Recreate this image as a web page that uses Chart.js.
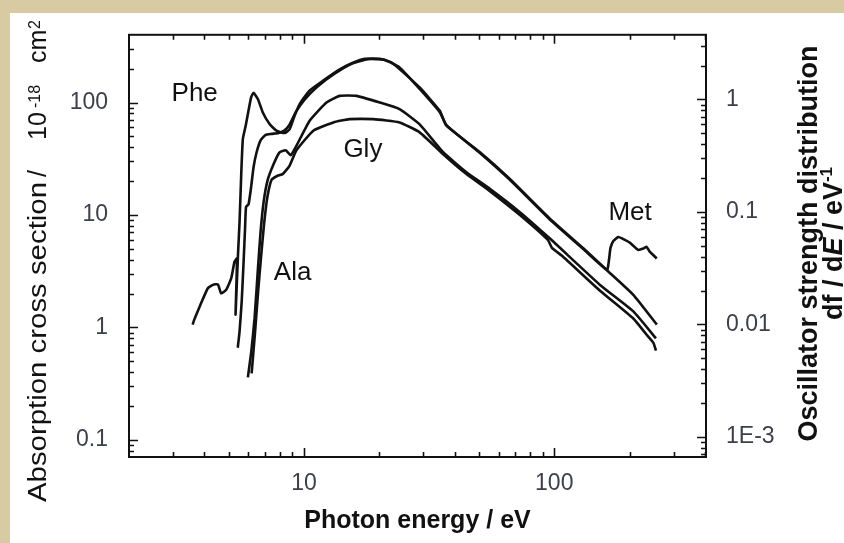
<!DOCTYPE html>
<html>
<head>
<meta charset="utf-8">
<script src="https://cdn.jsdelivr.net/npm/chart.js@4.4.1/dist/chart.umd.min.js"></script>
<style>
  html, body { margin: 0; padding: 0; }
  body { width: 844px; height: 543px; background: #d8cba3; position: relative; overflow: hidden; }
  #panel { position: absolute; left: 10px; top: 13px; width: 834px; height: 530px; background: #fff; }
  #chart { position: absolute; left: 0; top: 0; }
</style>
</head>
<body>
<div id="panel"></div>
<canvas id="chart" width="844" height="543"></canvas>
<script>
// photoabsorption cross sections (1e-18 cm^2) against photon energy (eV)
const pheEnergy = [3.59, 3.65, 3.83, 4.13, 4.33, 4.53, 4.67, 4.89, 5.12, 5.28, 5.40, 5.33, 5.45, 5.53, 5.62, 5.70, 5.85, 6.15, 6.29, 6.55, 6.85, 7.29, 7.76, 8.37, 8.77, 9.18, 9.61, 10.5, 11.9, 13.9, 15.7, 17.5, 20.1, 22.4, 24.1, 29.0, 34.9, 37.1, 50.5, 66.5, 96.1, 131, 162, 207, 257];
const pheSigma = [1.06, 1.18, 1.53, 2.23, 2.39, 2.42, 2.01, 2.16, 2.73, 3.84, 4.10, 1.30, 4.40, 8.67, 24.0, 47.3, 62, 111, 122, 107, 81.6, 64.3, 56.2, 53.5, 58, 76.3, 96.6, 127, 156, 197, 226, 245, 245, 226, 198, 136, 84.4, 62.2, 36.1, 20.9, 9.27, 5.03, 3.24, 1.95, 1.06];

const metEnergy = [5.44, 5.53, 5.64, 5.74, 5.82, 5.87, 6.01, 6.15, 6.29, 6.47, 6.71, 7.03, 7.43, 7.92, 8.37, 8.77, 9.26, 10.06, 11.3, 13.3, 15.5, 18.0, 21.0, 24.1, 29.0, 34.9, 37.1, 50.5, 66.5, 96.1, 131, 162.5, 165.5, 167.8, 172.5, 180.3, 186.6, 200.9, 216.2, 227, 234, 239.9, 256.8];
const metSigma = [0.66, 0.92, 1.70, 3.84, 7.83, 11.8, 12.5, 17.7, 26.6, 36.1, 46.1, 51.5, 52.6, 53.7, 56.5, 63.9, 81.6, 106, 138, 181, 221, 243, 240, 205, 132, 82, 63, 35.5, 20.5, 9.1, 4.95, 3.26, 4.00, 5.10, 5.89, 6.38, 6.19, 5.65, 4.90, 5.03, 5.21, 4.77, 4.10];

const alaEnergy = [5.97, 6.16, 6.35, 6.55, 6.71, 6.90, 7.16, 7.56, 7.99, 8.45, 8.85, 9.35, 10.54, 12.3, 13.9, 16.2, 20.1, 24.1, 29.0, 36.0, 44.6, 55.3, 72.9, 96.1, 152.4, 207, 255];
const alaSigma = [0.36, 0.61, 1.21, 3.35, 7.07, 13.0, 20.4, 28.3, 36.1, 37.6, 34.0, 41.6, 68.9, 100, 114.6, 114.6, 100, 87.3, 63.9, 36.1, 24.0, 17.1, 10.6, 6.17, 2.39, 1.39, 0.80];

const glyEnergy = [6.18, 6.38, 6.56, 6.74, 6.93, 7.13, 7.41, 7.78, 8.24, 8.77, 9.32, 10.9, 13.1, 15.2, 18.9, 24.1, 29.0, 36.0, 44.6, 55.3, 72.9, 94.3, 97.9, 107.4, 152.4, 207, 234, 249, 255];
const glySigma = [0.39, 0.92, 2.08, 4.25, 8.32, 14.1, 20.4, 22.1, 23.2, 27.5, 37.4, 56.2, 66.5, 71.2, 71.2, 66.5, 54.3, 34.7, 23.1, 16.3, 10.0, 6.01, 5.10, 4.34, 2.12, 1.20, 0.861, 0.73, 0.622];

const xTickValues = [10, 100];
const yTickValues = [0.1, 1, 10, 100];
const fTickValues = [0.001, 0.01, 0.1, 1];
const fTickLabels = ['1E-3', '0.01', '0.1', '1'];

// axis ranges; the oscillator strength axis is the cross section scaled down
const xRange = [2, 404];
const sigmaRange = [0.0705, 400];
const sigmaPerF = 106.5;

const FONT = "'Liberation Sans', Arial, Helvetica, sans-serif";
const INK = '#111111';
const TICK_TEXT = '#3d404b';

Chart.defaults.font.family = FONT;

function toPoints(xs, ys) {
  return xs.map((x, i) => ({ x: x, y: ys[i] }));
}

function curve(name, xs, ys) {
  return {
    label: name,
    data: toPoints(xs, ys),
    showLine: true,
    borderColor: INK,
    borderWidth: 2.6,
    pointRadius: 0,
    tension: 0.15,
    yAxisID: 'y'
  };
}

function isDecade(v) {
  const l = Math.log10(v);
  return Math.abs(l - Math.round(l)) < 1e-6;
}

// 1..9 steps of every decade inside (min, max)
function logSteps(min, max) {
  const out = [];
  for (let d = Math.pow(10, Math.floor(Math.log10(min))); d <= max; d *= 10) {
    for (let m = 1; m < 10; m++) {
      const v = +(m * d).toPrecision(4);
      if (v > min * 1.001 && v < max * 0.999) out.push(v);
    }
  }
  return out;
}

// where each compound name sits, in data units
const nameAt = {
  Phe: [3.66, 120],
  Ala: [9.01, 3.07],
  Gly: [17.2, 37.6],
  Met: [201, 10.4]
};

function vText(ctx, str, x, y, font, stretch) {
  ctx.save();
  ctx.translate(x, y);
  ctx.rotate(-Math.PI / 2);
  ctx.font = font;
  ctx.scale(stretch || 1, 1);
  ctx.textAlign = 'left';
  ctx.textBaseline = 'alphabetic';
  ctx.fillText(str, 0, 0);
  ctx.restore();
}

const frame = {
  id: 'frame',
  afterDatasetsDraw(chart) {
    const { ctx, chartArea: a, scales } = chart;
    ctx.save();
    ctx.strokeStyle = INK;
    ctx.lineWidth = 2;
    ctx.strokeRect(a.left, a.top, a.right - a.left, a.bottom - a.top);

    // inward ticks on all four sides
    ctx.lineWidth = 1.6;
    ctx.beginPath();
    logSteps(scales.x.min, scales.x.max).forEach(v => {
      const p = Math.round(scales.x.getPixelForValue(v)) + 0.5;
      const len = isDecade(v) ? 9 : 5;
      ctx.moveTo(p, a.bottom); ctx.lineTo(p, a.bottom - len);
      ctx.moveTo(p, a.top); ctx.lineTo(p, a.top + len);
    });
    logSteps(scales.y.min, scales.y.max).forEach(v => {
      const p = Math.round(scales.y.getPixelForValue(v)) + 0.5;
      const len = isDecade(v) ? 9 : 5;
      ctx.moveTo(a.left, p); ctx.lineTo(a.left + len, p);
    });
    logSteps(scales.y2.min, scales.y2.max).forEach(v => {
      const p = Math.round(scales.y2.getPixelForValue(v)) + 0.5;
      const len = isDecade(v) ? 9 : 5;
      ctx.moveTo(a.right, p); ctx.lineTo(a.right - len, p);
    });
    ctx.stroke();

    // compound names
    ctx.fillStyle = INK;
    ctx.font = '26px ' + FONT;
    ctx.textAlign = 'center';
    ctx.textBaseline = 'middle';
    Object.keys(nameAt).forEach(k => {
      const [ex, sy] = nameAt[k];
      ctx.fillText(k, scales.x.getPixelForValue(ex), scales.y.getPixelForValue(sy));
    });

    // left title: Absorption cross section / 10^-18 cm^2
    const main = '25px ' + FONT;
    const sup = '16px ' + FONT;
    ctx.font = main;
    const w = ctx.measureText('Absorption cross section').width;
    vText(ctx, 'Absorption cross section', 46, 502, main, 320 / w);
    vText(ctx, '/', 46, 177, main);
    vText(ctx, '10', 46, 140, main);
    vText(ctx, '-18', 40, 108, sup);
    vText(ctx, 'cm', 46, 63, main);
    vText(ctx, '2', 40, 29, sup);

    // right title, two bold lines reading upward
    const bold = 'bold 27px ' + FONT;
    const boldIt = 'italic bold 27px ' + FONT;
    const boldSup = 'bold 17px ' + FONT;
    ctx.font = bold;
    const l1 = 'Oscillator strength distribution';
    vText(ctx, l1, 817, 243.5 + ctx.measureText(l1).width / 2, bold);

    const parts = [['df / d', bold, 0], ['E', boldIt, 0], [' / eV', bold, 0], ['-1', boldSup, -10]];
    let total = 0;
    parts.forEach(p => { ctx.font = p[1]; p.push(ctx.measureText(p[0]).width); total += p[3]; });
    let y = 243.5 + total / 2;
    parts.forEach(p => {
      vText(ctx, p[0], 842 + p[2], y, p[1]);
      y -= p[3];
    });
    ctx.restore();
  }
};

new Chart(document.getElementById('chart'), {
  type: 'scatter',
  data: {
    datasets: [
      curve('Phe', pheEnergy, pheSigma),
      curve('Met', metEnergy, metSigma),
      curve('Ala', alaEnergy, alaSigma),
      curve('Gly', glyEnergy, glySigma)
    ]
  },
  options: {
    responsive: false,
    animation: false,
    devicePixelRatio: 1,
    layout: { padding: { top: 32, left: 0, right: 0, bottom: 0 } },
    plugins: { legend: { display: false }, tooltip: { enabled: false } },
    scales: {
      x: {
        type: 'logarithmic',
        min: xRange[0],
        max: xRange[1],
        grid: { display: false, drawTicks: false },
        border: { display: false },
        afterBuildTicks: s => { s.ticks = xTickValues.map(v => ({ value: v })); },
        afterFit: s => { s.height = 86; },
        ticks: {
          padding: 13,
          color: TICK_TEXT,
          font: { size: 23 },
          maxRotation: 0,
          callback: v => String(v)
        },
        title: {
          display: true,
          text: 'Photon energy / eV',
          color: INK,
          font: { size: 25, weight: 'bold' },
          padding: { top: 0, bottom: 7 }
        }
      },
      y: {
        type: 'logarithmic',
        position: 'left',
        min: sigmaRange[0],
        max: sigmaRange[1],
        grid: { display: false, drawTicks: false },
        border: { display: false },
        afterBuildTicks: s => { s.ticks = yTickValues.map(v => ({ value: v })); },
        afterFit: s => { s.width = 129; },
        ticks: {
          padding: 21,
          color: TICK_TEXT,
          font: { size: 23 },
          callback: v => String(v)
        }
      },
      y2: {
        type: 'logarithmic',
        position: 'right',
        min: sigmaRange[0] / sigmaPerF,
        max: sigmaRange[1] / sigmaPerF,
        grid: { display: false, drawTicks: false },
        border: { display: false },
        afterBuildTicks: s => { s.ticks = fTickValues.map(v => ({ value: v })); },
        afterFit: s => { s.width = 138; },
        ticks: {
          padding: 20,
          color: TICK_TEXT,
          font: { size: 23 },
          callback: v => fTickLabels[fTickValues.indexOf(v)]
        }
      }
    }
  },
  plugins: [frame]
});
</script>
</body>
</html>
